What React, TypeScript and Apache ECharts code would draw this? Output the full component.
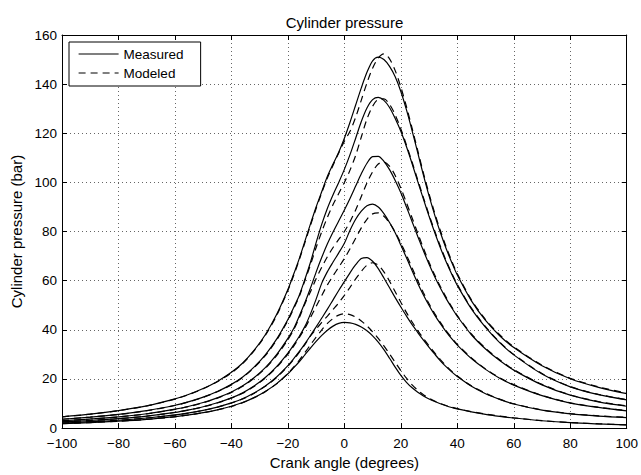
import React, { useEffect, useRef } from 'react';
import * as echarts from 'echarts';

// Crank angle sample positions (degrees)
const crankAngle = [-100, -90, -80, -70, -60, -55, -50, -45, -40, -36, -32, -28, -24,
  -20, -18, -16, -14, -12, -10, -8, -6, -4, -2, 0, 2, 4, 6, 8, 10, 12, 14, 16, 18, 20,
  22, 24, 26, 28, 30, 32, 34, 36, 38, 40, 45, 50, 55, 60, 70, 80, 90, 100];

// Measured cylinder pressure (bar), six operating points
const measured1 = [1.8, 2.25, 2.8, 3.55, 4.65, 5.4, 6.3, 7.45, 8.9, 10.4, 12.4, 14.9, 18.1,
  22.1, 24.5, 27.0, 29.8, 32.6, 35.3, 37.75, 39.85, 41.5, 42.6, 43.0, 42.8, 42.2, 41.15, 39.6, 37.55, 35.0, 31.95, 28.45, 24.8, 21.45, 18.65, 16.4, 14.6, 13.1, 11.85, 10.8, 9.9, 9.1, 8.4, 7.8,
  6.6, 5.6, 4.8, 4.1, 3.0, 2.2, 1.7, 1.3];
const measured2 = [2.05, 2.6, 3.2, 4.1, 5.35, 6.2, 7.25, 8.55, 10.25, 11.95, 14.25, 17.1, 20.8,
  25.4, 28.2, 31.1, 34.3, 37.7, 41.2, 44.8, 48.4, 52.2, 56.0, 59.6, 63.2, 66.5, 69.0, 69.4, 67.9, 64.9, 61.1, 57.1, 53.1, 49.3, 45.6, 42.1, 38.9, 35.8, 32.9, 30.1, 27.4, 25.0, 22.9, 21.0,
  17.0, 14.0, 11.7, 9.8, 7.3, 5.8, 4.9, 4.3];
const measured3 = [2.5, 3.1, 3.85, 4.9, 6.4, 7.45, 8.7, 10.3, 12.3, 14.35, 17.1, 20.6, 25.0,
  30.5, 33.8, 37.3, 41.3, 46.5, 52.5, 59.0, 63.7, 67.6, 71.3, 75.2, 80.5, 85.0, 88.3, 90.5, 91.2, 90.0, 87.3, 83.7, 79.5, 74.5, 69.3, 64.0, 58.9, 54.2, 49.9, 46.0, 42.5, 39.3, 36.4, 33.8,
  28.3, 23.9, 20.3, 17.5, 13.2, 10.2, 8.4, 7.0];
const measured4 = [3.0, 3.7, 4.6, 5.85, 7.7, 8.9, 10.4, 12.3, 14.7, 17.2, 20.5, 24.6, 29.9,
  36.5, 40.4, 45.5, 51.0, 57.0, 63.5, 69.5, 75.0, 79.8, 84.3, 88.8, 93.5, 98.5, 103.5, 107.8, 110.5, 110.6, 108.6, 105.2, 100.8, 95.8, 90.0, 84.0, 78.0, 72.2, 66.7, 61.6, 57.0, 52.8, 49.0, 45.5,
  38.0, 32.2, 27.5, 23.6, 17.6, 13.4, 10.7, 8.9];
const measured5 = [3.6, 4.5, 5.6, 7.1, 9.3, 10.8, 12.6, 14.9, 17.8, 20.8, 24.8, 29.8, 36.2,
  44.2, 49.0, 54.0, 60.5, 67.5, 75.5, 83.0, 89.5, 95.0, 100.0, 105.3, 111.3, 118.0, 124.8, 130.3, 133.7, 134.6, 133.4, 130.5, 126.0, 120.8, 114.5, 107.6, 100.3, 93.2, 86.2, 79.6, 73.4, 67.8, 62.7, 58.1,
  48.5, 41.0, 34.8, 29.8, 22.0, 16.8, 13.6, 11.5];
const measured6 = [4.6, 5.7, 7.15, 9.05, 11.9, 13.8, 16.1, 19.0, 22.7, 26.5, 31.6, 38.0, 46.2,
  56.4, 62.5, 68.9, 76.0, 83.1, 90.0, 96.3, 102.5, 107.5, 112.3, 118.0, 124.5, 131.5, 138.5, 144.8, 149.5, 151.0, 150.0, 147.2, 143.0, 137.0, 129.5, 121.0, 112.0, 103.0, 94.5, 86.7, 79.6, 73.2, 67.5, 62.3,
  51.8, 43.8, 37.6, 32.8, 25.4, 20.1, 16.6, 14.0];

// Modeled cylinder pressure (bar)
const modeled1 = [1.8, 2.25, 2.8, 3.55, 4.6, 5.35, 6.25, 7.4, 8.85, 10.35, 12.35, 14.85, 18.0,
  22.2, 24.8, 27.6, 30.7, 33.9, 37.0, 40.0, 42.6, 44.6, 46.0, 46.5, 46.2, 45.2, 43.6, 41.6, 39.2, 36.5, 33.5, 30.2, 26.8, 23.4, 20.3, 17.6, 15.4, 13.6, 12.2, 11.0, 10.0, 9.2, 8.5, 7.9,
  6.7, 5.7, 4.9, 4.2, 3.05, 2.25, 1.75, 1.35];
const modeled2 = [2.05, 2.6, 3.2, 4.1, 5.3, 6.15, 7.2, 8.5, 10.2, 11.9, 14.1, 17.0, 20.6,
  25.2, 27.9, 30.8, 34.0, 37.5, 40.3, 43.0, 45.6, 48.3, 51.0, 54.0, 57.3, 60.7, 63.8, 66.3, 67.3, 66.3, 63.6, 59.8, 55.5, 51.2, 47.0, 43.2, 39.7, 36.5, 33.5, 30.6, 27.9, 25.4, 23.2, 21.2,
  17.2, 14.2, 11.8, 9.9, 7.4, 5.9, 5.0, 4.4];
const modeled3 = [2.5, 3.1, 3.85, 4.85, 6.35, 7.4, 8.65, 10.2, 12.2, 14.2, 16.9, 20.4, 24.7,
  30.1, 33.3, 36.8, 40.6, 45.0, 49.5, 54.0, 58.3, 62.0, 65.5, 69.0, 73.0, 77.3, 81.5, 85.0, 87.2, 87.6, 86.2, 83.5, 79.7, 75.3, 70.4, 65.2, 60.0, 55.1, 50.6, 46.6, 43.0, 39.7, 36.8, 34.1,
  28.6, 24.1, 20.5, 17.7, 13.3, 10.3, 8.5, 7.1];
const modeled4 = [3.0, 3.7, 4.55, 5.8, 7.6, 8.8, 10.3, 12.2, 14.5, 17.0, 20.3, 24.3, 29.5,
  36.0, 39.9, 44.8, 50.5, 55.5, 60.8, 65.5, 69.8, 73.5, 76.8, 80.0, 84.0, 88.8, 94.3, 99.8, 104.3, 107.5, 108.3, 106.6, 102.8, 97.6, 91.7, 85.5, 79.3, 73.2, 67.5, 62.3, 57.6, 53.3, 49.4, 45.8,
  38.3, 32.5, 27.8, 23.8, 17.8, 13.5, 10.8, 9.0];
const modeled5 = [3.6, 4.5, 5.55, 7.05, 9.2, 10.7, 12.5, 14.8, 17.6, 20.6, 24.6, 29.5, 35.8,
  43.8, 48.5, 53.5, 60.0, 66.5, 73.5, 80.0, 85.8, 91.0, 95.5, 100.0, 105.0, 111.0, 118.5, 125.8, 131.0, 133.8, 134.0, 131.8, 127.5, 121.8, 115.2, 108.2, 101.0, 93.8, 86.8, 80.2, 74.0, 68.3, 63.1, 58.5,
  48.8, 41.3, 35.0, 30.0, 22.2, 16.9, 13.7, 11.6];
const modeled6 = [4.6, 5.7, 7.1, 9.0, 11.8, 13.7, 16.0, 18.9, 22.5, 26.3, 31.4, 37.7, 45.8,
  56.0, 62.0, 68.4, 75.4, 82.5, 89.4, 95.8, 101.9, 107.0, 112.0, 116.8, 120.8, 126.5, 133.5, 140.5, 146.5, 150.6, 152.3, 150.3, 145.5, 138.8, 130.8, 122.0, 112.9, 103.8, 95.3, 87.5, 80.4, 73.9, 68.1, 62.8,
  52.2, 44.2, 38.0, 33.1, 25.6, 20.3, 16.8, 14.2];

const measuredSets = [measured1, measured2, measured3, measured4, measured5, measured6];
const modeledSets = [modeled1, modeled2, modeled3, modeled4, modeled5, modeled6];

const legendNames = ['Measured', 'Modeled'];
const xTicks = { min: -100, max: 100, interval: 20 };
const yTicks = { min: 0, max: 160, interval: 20 };

export default function App() {
  const ref = useRef<HTMLDivElement>(null);

  useEffect(() => {
    if (!ref.current) return;
    const chart = echarts.init(ref.current, null, { renderer: 'svg' });
    const font = '"Liberation Sans", Arial, Helvetica, sans-serif';
    const toPairs = (ys: number[]) => crankAngle.map((x, i) => [x, ys[i]]);
    const minus = (v: number) => String(v).replace('-', '\u2212');

    const series: any[] = [];
    measuredSets.forEach((ys) => {
      series.push({
        type: 'line',
        name: legendNames[0],
        data: toPairs(ys),
        symbol: 'none',
        smooth: 0.3,
        lineStyle: { color: '#000', width: 1.2, type: 'solid' },
        itemStyle: { color: '#000' },
        z: 3,
      });
    });
    modeledSets.forEach((ys) => {
      series.push({
        type: 'line',
        name: legendNames[1],
        data: toPairs(ys),
        symbol: 'none',
        smooth: 0.3,
        lineStyle: { color: '#000', width: 1.2, type: [7, 5] },
        itemStyle: { color: '#000' },
        z: 3,
      });
    });

    const splitLine = { show: true, lineStyle: { color: '#666', width: 1, type: [1, 3] } };
    const axisLine = { show: true, onZero: false, lineStyle: { color: '#000', width: 1 } };
    const axisTick = { show: true, inside: true, length: 5, lineStyle: { color: '#000', width: 1 } };
    const labelStyle = { color: '#000', fontSize: 13.5, fontFamily: font };

    chart.setOption({
      animation: false,
      backgroundColor: '#fff',
      textStyle: { fontFamily: font },
      title: {
        text: 'Cylinder pressure',
        left: 344.5,
        textAlign: 'center',
        top: 15,
        padding: 0,
        textStyle: { color: '#000', fontSize: 15, fontWeight: 'normal', fontFamily: font },
      },
      grid: { left: 62, right: 14, top: 35, bottom: 40, containLabel: false },
      legend: {
        data: legendNames,
        orient: 'vertical',
        left: 69,
        top: 42,
        padding: [4, 17, 5, 9],
        itemGap: 3,
        itemWidth: 40,
        itemHeight: 16,
        backgroundColor: '#fff',
        borderColor: '#000',
        borderWidth: 1,
        borderRadius: 0,
        selectedMode: false,
        itemStyle: { opacity: 0, color: 'transparent', borderWidth: 0 },
        lineStyle: { color: '#000', width: 1.2 },
        textStyle: { color: '#000', fontSize: 13.5, fontFamily: font, lineHeight: 16 },
        z: 10,
      },
      xAxis: [
        {
          type: 'value',
          ...xTicks,
          position: 'bottom',
          name: 'Crank angle (degrees)',
          nameLocation: 'middle',
          nameGap: 24,
          nameTextStyle: { color: '#000', fontSize: 15, fontFamily: font },
          axisLine,
          axisTick,
          splitLine,
          axisLabel: { ...labelStyle, margin: 8, formatter: minus },
        },
        {
          type: 'value',
          ...xTicks,
          position: 'top',
          axisLine,
          axisTick,
          splitLine: { show: false },
          axisLabel: { show: false },
        },
      ],
      yAxis: [
        {
          type: 'value',
          ...yTicks,
          position: 'left',
          name: 'Cylinder pressure (bar)',
          nameLocation: 'middle',
          nameGap: 37,
          nameRotate: 90,
          nameTextStyle: { color: '#000', fontSize: 15, fontFamily: font },
          axisLine,
          axisTick,
          splitLine,
          axisLabel: { ...labelStyle, margin: 5, formatter: minus },
        },
        {
          type: 'value',
          ...yTicks,
          position: 'right',
          axisLine,
          axisTick,
          splitLine: { show: false },
          axisLabel: { show: false },
        },
      ],
      series,
    });

    return () => chart.dispose();
  }, []);

  return (
    <div
      ref={ref}
      style={{ position: 'fixed', left: 0, top: 0, width: 641, height: 475, background: '#fff' }}
    />
  );
}
